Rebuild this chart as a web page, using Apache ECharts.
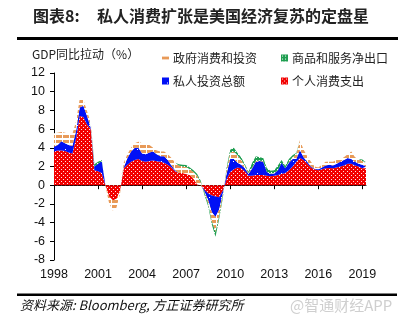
<!DOCTYPE html>
<html>
<head>
<meta charset="utf-8">
<script src="https://cdn.jsdelivr.net/npm/echarts@6/dist/echarts.min.js"></script>
<style>
html,body{margin:0;padding:0;background:#fff;}
#c{width:415px;height:327px;}
</style>
</head>
<body>
<div id="c"></div>
<script>
// ---- data (percentage-point contributions, quarterly 1998Q1 - 2019Q2) ----
const quarters = [];
for (let y = 1998; y <= 2019; y++) {
  for (let q = 1; q <= 4; q++) {
    if (y === 2019 && q > 2) break;
    quarters.push(y + 'Q' + q);
  }
}
const yearTicks = ['1998','2001','2004','2007','2010','2013','2016','2019'];

const consumption = [3.6,3.7,3.7,3.65,3.5,3.4,5.0,7.4,7.3,6.5,
  6.0,1.6,1.5,1.3,0,-1.2,-1.6,-1.5,-0.6,1.8,
  2.2,2.5,2.7,2.8,2.6,2.5,2.6,2.65,2.55,2.5,
  2.4,2.2,1.9,1.5,1.3,1.3,1.2,1.1,0.7,0.1,
  0,-0.5,-0.9,-1.1,-1.2,-1.3,-0.6,0.6,1.4,1.7,
  1.9,1.8,1.5,1.0,1.0,1.1,1.1,1.1,1.0,0.95,
  1.0,1.1,1.2,1.3,1.6,2.0,2.5,2.9,2.7,2.3,
  1.9,1.7,1.6,1.7,1.8,1.85,1.8,1.9,2.0,2.1,
  2.3,2.3,2.1,2.0,1.8,1.8];
const investment = [0.5,0.6,1.0,0.85,0.8,0.8,0.8,0.9,1.2,0.9,
  0.2,0.4,0.8,1.3,0,0,0,0,0,0.1,
  0.7,1.1,1.3,1.2,0.8,0.8,0.9,0.95,0.75,0.6,
  0.7,0.5,0.2,0.1,0,0,0,0,0,0,
  0,-0.2,-0.7,-1.8,-2.2,-1.3,-0.3,0.6,1.4,1.1,
  0.5,0.4,0.3,0.2,0.8,1.4,1.5,1.4,0.4,0.25,
  0.25,0.5,1.2,0.5,0.8,0.8,0.3,0.85,0.3,0.2,
  0.1,0.05,0.1,0.2,0.3,0.35,0.3,0.4,0.5,0.6,
  0.6,0.5,0.4,0.3,0.4,0.2];
const government = [1.45,1.3,1.0,1.1,1.2,1.25,1.0,0.9,0.6,0.5,
  0.5,0,0,0,0,-0.7,-1.1,-0.9,-0.3,0.5,
  0.4,0.4,0.5,0.65,1.1,1.0,0.8,0.4,0.4,0.5,
  0.5,0.6,0.8,0.8,0.8,0.7,0.75,0.6,0.7,0.9,
  0.3,-0.1,-0.4,-1.0,-1.6,-0.7,-0.2,0.4,0.7,0.8,
  0.8,0.5,0.3,0.1,0.1,0.1,0.05,0.05,0,0.05,
  0.05,0,0,0,0.1,0.2,0.5,1.05,0.8,0.6,
  0.5,0.25,0.2,0.3,0.4,0.3,0.4,0.4,0.3,0.3,
  0.4,0.8,0.5,0.5,0.4,0.3];
const netExports = [0,0,0,0,0,0,0,0,0,0,
  0,0.25,0.2,0.1,0,0,0,0,0,0,
  0,0,0,0,0,0,0,0,0,0,
  0,0,0,0,0.15,0.2,0.2,0.2,0.2,0.2,
  0.15,-0.25,-0.25,-0.3,-0.5,-0.3,-0.25,0.25,0.3,0.4,
  0.25,0.25,0.15,0.15,0.5,0.5,0.35,0.35,0.4,0.3,
  0.3,0.5,0.3,0.25,0.3,0.2,0.15,0,0,0,
  0,0,0,0,0,0,0,0,0,0,
  0,0,0,0,0.15,0.15];

// ---- patterns ----
function makePattern(w, h, draw) {
  const c = document.createElement('canvas');
  c.width = w; c.height = h;
  const ctx = c.getContext('2d');
  draw(ctx);
  return { image: c, repeat: 'repeat' };
}
const RED = '#F20000', BLUE = '#0010F5', GREEN = '#1E9E50', ORANGE = '#E89A58';
const redPat = makePattern(4, 4, ctx => {
  ctx.fillStyle = RED; ctx.fillRect(0, 0, 4, 4);
  ctx.fillStyle = '#FFE4E4'; ctx.fillRect(1, 1, 1, 1); ctx.fillRect(3, 3, 1, 1);
});
const greenPat = makePattern(3, 3, ctx => {
  ctx.fillStyle = GREEN; ctx.fillRect(0, 0, 3, 3);
  ctx.fillStyle = '#ffffff'; ctx.fillRect(1, 1, 1, 1);
});
const orangePat = makePattern(7, 5, ctx => {
  ctx.fillStyle = '#ffffff'; ctx.fillRect(0, 0, 7, 5);
  ctx.fillStyle = ORANGE; ctx.fillRect(0, 0, 6, 3);
});
const bluePat = makePattern(12, 12, ctx => {
  ctx.fillStyle = BLUE; ctx.fillRect(0, 0, 12, 12);
  ctx.fillStyle = '#ffffff'; ctx.fillRect(5, 5, 1, 1);
});

const chart = echarts.init(document.getElementById('c'), null, { renderer: 'canvas' });
const CJK = '"Noto Sans CJK SC", sans-serif';
const LAT = '"Liberation Sans", Arial, sans-serif';

function areaSeries(name, data, fill, solid) {
  return {
    name: name, type: 'line', stack: 'gdp', stackStrategy: 'all',
    data: data, symbol: 'none', smooth: false,
    lineStyle: { width: 0, opacity: 0 },
    itemStyle: { color: solid },
    areaStyle: { color: fill, opacity: 1 },
    emphasis: { disabled: true },
    xAxisIndex: 0, yAxisIndex: 0
  };
}

chart.setOption({
  animation: false,
  backgroundColor: '#ffffff',
  grid: { left: 54, right: 49, top: 73, bottom: 67 },
  legend: [
    {
      left: 157, top: 47, itemWidth: 7, itemHeight: 7, itemGap: 24, icon: 'rect',
      textStyle: { fontFamily: CJK, fontSize: 12, color: '#222', padding: [0, 0, 0, -1] },
      selectedMode: false,
      data: [
        { name: '政府消费和投资', icon: 'path://M0,0h10v4h-10z', itemStyle: { color: ORANGE } },
        { name: '商品和服务净出口', itemStyle: { color: greenPat } }
      ]
    },
    {
      left: 157, top: 70, itemWidth: 7, itemHeight: 7, itemGap: 36, icon: 'rect',
      textStyle: { fontFamily: CJK, fontSize: 12, color: '#222', padding: [0, 0, 0, -1] },
      selectedMode: false,
      data: [
        { name: '私人投资总额', itemStyle: { color: bluePat } },
        { name: '个人消费支出', itemStyle: { color: redPat } }
      ]
    }
  ],
  xAxis: [
    {
      type: 'category', data: quarters, boundaryGap: false,
      axisLine: { onZero: true, lineStyle: { color: '#000', width: 1 } },
      axisTick: { show: true, interval: 11, length: 4, lineStyle: { color: '#000' } },
      axisLabel: { show: false },
      splitLine: { show: false }
    },
    {
      type: 'category', data: quarters, boundaryGap: false, position: 'bottom',
      axisLine: { show: false, onZero: false },
      axisTick: { show: false },
      axisLabel: {
        interval: 11, margin: 8, fontFamily: LAT, fontSize: 12.5, color: '#111',
        formatter: (v, i) => (i % 12 === 0 ? yearTicks[i / 12] : '')
      },
      splitLine: { show: false }
    }
  ],
  yAxis: {
    type: 'value', min: -8, max: 12, interval: 2,
    axisLine: { show: true, lineStyle: { color: '#000', width: 1 } },
    axisTick: { show: true, length: 4, lineStyle: { color: '#000' } },
    axisLabel: { margin: 9, fontFamily: LAT, fontSize: 12.5, color: '#111' },
    splitLine: { show: false }
  },
  series: [
    areaSeries('个人消费支出', consumption, redPat, RED),
    areaSeries('私人投资总额', investment, bluePat, BLUE),
    areaSeries('政府消费和投资', government, orangePat, ORANGE),
    areaSeries('商品和服务净出口', netExports, greenPat, GREEN)
  ],
  graphic: [
    { type: 'text', x: 33, y: 16, style: { text: '图表8:', font: 'bold 16px ' + CJK, fill: '#222', verticalAlign: 'middle' } },
    { type: 'text', x: 97, y: 16, style: { text: '私人消费扩张是美国经济复苏的定盘星', font: 'bold 16px ' + CJK, fill: '#222', verticalAlign: 'middle' } },
    { type: 'rect', shape: { x: 17, y: 37, width: 381, height: 3 }, style: { fill: '#000' } },
    { type: 'text', x: 32, y: 54, style: { text: 'GDP同比拉动（%）', font: '12px ' + CJK, fill: '#222', verticalAlign: 'middle' } },
    { type: 'rect', shape: { x: 17, y: 293.5, width: 380, height: 2.5 }, style: { fill: '#000' } },
    { type: 'text', x: 20, y: 305, style: { text: '资料来源: Bloomberg, 方正证券研究所', font: 'italic 13px ' + CJK, fill: '#111', verticalAlign: 'middle' } },
    { type: 'text', x: 290, y: 305, style: { text: '@智通财经APP', font: '15px ' + CJK, fill: '#cfcfcf', verticalAlign: 'middle' } }
  ]
});
</script>
</body>
</html>
